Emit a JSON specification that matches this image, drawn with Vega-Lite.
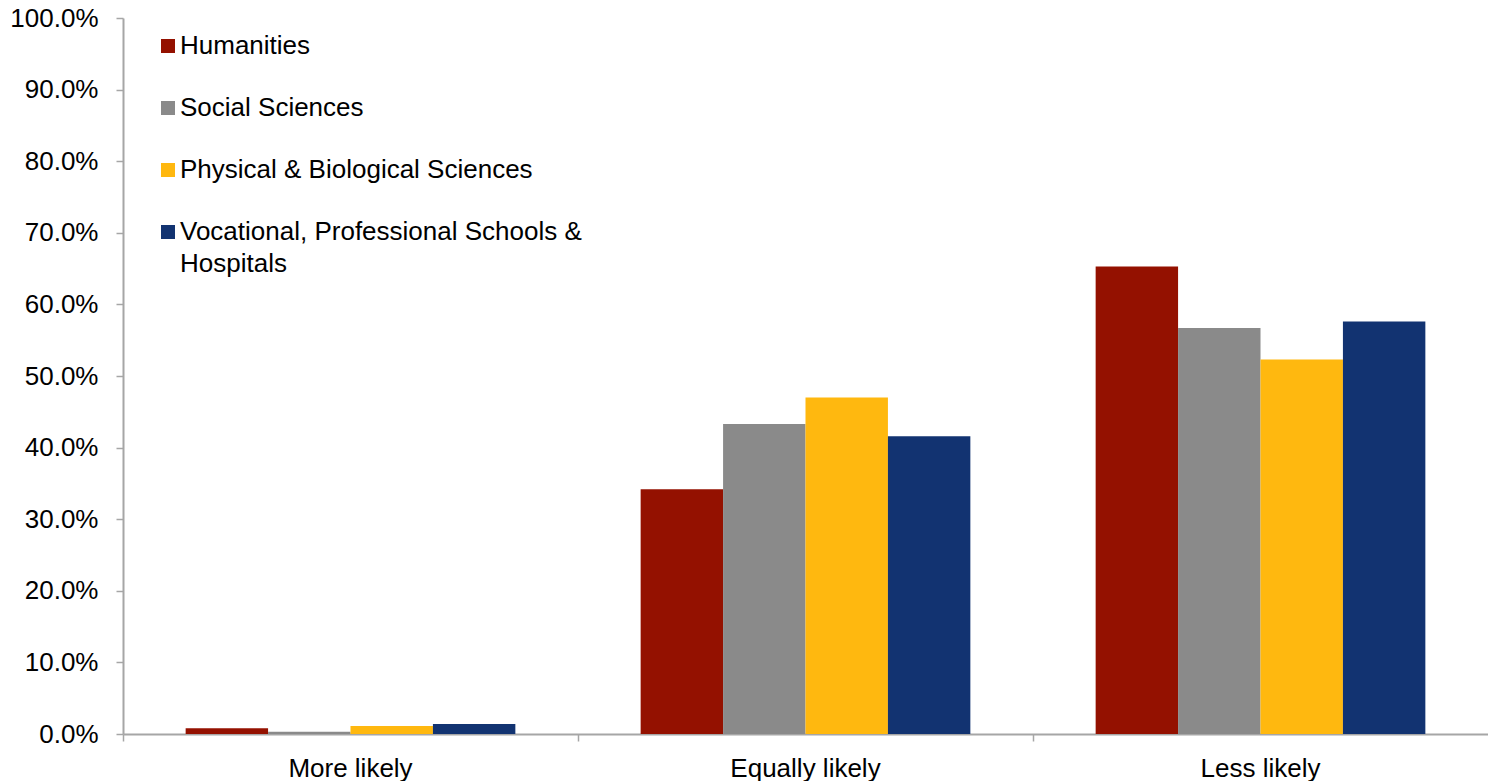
{
  "$schema": "https://vega.github.io/schema/vega-lite/v6.json",
  "autosize": "none",
  "padding": {"left": 123, "top": 18, "right": 0, "bottom": 47},
  "width": 1365,
  "height": 716,
  "background": "white",
  "config": {
    "view": {"stroke": null},
    "font": "Liberation Sans"
  },
  "data": {
    "values": [
      {"Response": "More likely", "Field": "Humanities", "Percent": 0.8},
      {"Response": "More likely", "Field": "Social Sciences", "Percent": 0.3},
      {"Response": "More likely", "Field": "Physical & Biological Sciences", "Percent": 1.1},
      {"Response": "More likely", "Field": "Vocational, Professional Schools & Hospitals", "Percent": 1.4},
      {"Response": "Equally likely", "Field": "Humanities", "Percent": 34.2},
      {"Response": "Equally likely", "Field": "Social Sciences", "Percent": 43.3},
      {"Response": "Equally likely", "Field": "Physical & Biological Sciences", "Percent": 47.0},
      {"Response": "Equally likely", "Field": "Vocational, Professional Schools & Hospitals", "Percent": 41.6},
      {"Response": "Less likely", "Field": "Humanities", "Percent": 65.3},
      {"Response": "Less likely", "Field": "Social Sciences", "Percent": 56.7},
      {"Response": "Less likely", "Field": "Physical & Biological Sciences", "Percent": 52.3},
      {"Response": "Less likely", "Field": "Vocational, Professional Schools & Hospitals", "Percent": 57.6}
    ]
  },
  "mark": {"type": "bar"},
  "encoding": {
    "x": {
      "field": "Response",
      "type": "nominal",
      "sort": ["More likely", "Equally likely", "Less likely"],
      "scale": {"paddingInner": 0, "paddingOuter": 0},
      "axis": {
        "title": null,
        "labelAngle": 0,
        "labelFontSize": 26,
        "labelColor": "#000000",
        "labelPadding": 14,
        "labelBaseline": "top",
        "domainColor": "#A6A6A6",
        "domainWidth": 2,
        "tickColor": "#A6A6A6",
        "tickWidth": 1.5,
        "tickSize": 7,
        "bandPosition": 0
      }
    },
    "xOffset": {
      "field": "Field",
      "type": "nominal",
      "sort": ["Humanities", "Social Sciences", "Physical & Biological Sciences", "Vocational, Professional Schools & Hospitals"],
      "scale": {"paddingInner": 0, "paddingOuter": 0.76}
    },
    "y": {
      "field": "Percent",
      "type": "quantitative",
      "scale": {"domain": [0, 100], "nice": false},
      "axis": {
        "title": null,
        "values": [0, 10, 20, 30, 40, 50, 60, 70, 80, 90, 100],
        "labelExpr": "format(datum.value, '.1f') + '%'",
        "labelFontSize": 26,
        "labelColor": "#000000",
        "labelPadding": 18,
        "grid": false,
        "domainColor": "#A6A6A6",
        "domainWidth": 2,
        "tickColor": "#A6A6A6",
        "tickWidth": 1.5,
        "tickSize": 7
      }
    },
    "color": {
      "field": "Field",
      "type": "nominal",
      "scale": {
        "domain": ["Humanities", "Social Sciences", "Physical & Biological Sciences", "Vocational, Professional Schools & Hospitals"],
        "range": ["#941100", "#8A8A8A", "#FFB80F", "#123371"]
      },
      "legend": {
        "title": null,
        "orient": "none",
        "legendX": 32,
        "legendY": 15,
        "padding": 0,
        "symbolType": "square",
        "symbolSize": 196,
        "symbolStrokeWidth": 0,
        "symbolOpacity": 1,
        "labelFontSize": 26,
        "labelColor": "#000000",
        "labelOffset": -1,
        "labelLimit": 0,
        "labelBaseline": "top",
        "rowPadding": 36,
        "labelExpr": "datum.label == 'Vocational, Professional Schools & Hospitals' ? ['Vocational, Professional Schools &', 'Hospitals'] : datum.label",
        "encode": {
          "labels": {
            "update": {
              "dy": {"value": -13},
              "lineHeight": {"value": 32}
            }
          }
        }
      }
    }
  }
}
